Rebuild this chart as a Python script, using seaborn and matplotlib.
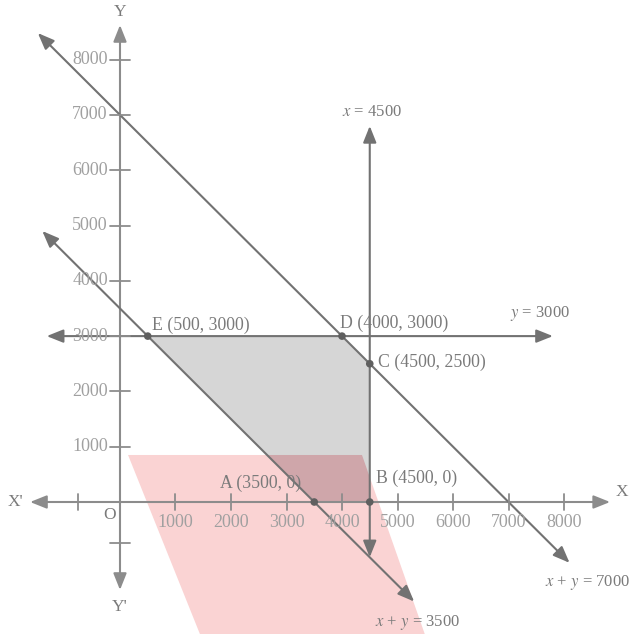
import numpy as np
import pandas as pd
import matplotlib
matplotlib.use("Agg")
import matplotlib.pyplot as plt
from matplotlib.patches import Polygon
import seaborn as sns

# corner points of the feasible region
corner_labels = ["A (3500, 0)", "B (4500, 0)", "C (4500, 2500)", "D (4000, 3000)", "E (500, 3000)"]
corner_x = [3500, 4500, 4500, 4000, 500]
corner_y = [0, 0, 2500, 3000, 3000]

# feasible region (gray) vertices: E, D, C, B, A
region_x = [500, 4000, 4500, 4500, 3500]
region_y = [3000, 3000, 2500, 0, 0]

# pink band vertices
pink_x = [145, 4360, 5600, 1565]
pink_y = [850, 850, -2700, -2700]

# constraint lines: end points
line7000_x = [-1480, 8100]
line7000_y = [8480, -1100]
line3500_x = [-1400, 5300]
line3500_y = [4900, -1800]
line3000_x = [-1320, 7800]
line3000_y = [3000, 3000]
line4500_x = [4500, 4500]
line4500_y = [-1000, 6800]

# axes end points
xaxis_x = [-1620, 8830]
yaxis_y = [-1590, 8625]

tick_values = [1000, 2000, 3000, 4000, 5000, 6000, 7000, 8000]
neg_tick = -750

sns.set_style("white")
plt.rcParams["font.family"] = ["Liberation Serif", "DejaVu Serif"]
plt.rcParams["mathtext.fontset"] = "stix"

fig = plt.figure(figsize=(6.36, 6.34), dpi=100)
ax = fig.add_axes([0, 0, 1, 1])
ax.set_xlim(-2162, 9297)
ax.set_ylim(-2387, 9078)
ax.axis("off")

axis_col = "#8c8c8c"
line_col = "#727272"
text_col = "#7a7a7a"
tick_col = "#a0a0a0"

# shaded areas
pink = Polygon(np.column_stack([pink_x, pink_y]), closed=True,
               facecolor="#fad3d3", edgecolor="none", zorder=1)
ax.add_patch(pink)
gray = Polygon(np.column_stack([region_x, region_y]), closed=True,
               facecolor="#d6d6d6", edgecolor="none", zorder=2)
ax.add_patch(gray)
overlap = Polygon(np.column_stack([region_x, region_y]), closed=True,
                  facecolor="#cfa6aa", edgecolor="none", zorder=3)
ax.add_patch(overlap)
overlap.set_clip_path(pink)


def arrow_line(xs, ys, color, lw=1.5):
    ax.annotate("", xy=(xs[1], ys[1]), xytext=(xs[0], ys[0]),
                arrowprops=dict(arrowstyle="<|-|>,head_length=1.0,head_width=0.4",
                                color=color, lw=lw, shrinkA=0, shrinkB=0),
                zorder=4)


# axes
arrow_line(xaxis_x, [0, 0], axis_col)
arrow_line([0, 0], yaxis_y, axis_col)

# constraint lines
arrow_line(line7000_x, line7000_y, line_col)
arrow_line(line3500_x, line3500_y, line_col)
arrow_line(line3000_x, line3000_y, line_col)
arrow_line(line4500_x, line4500_y, line_col)

# ticks
for v in tick_values + [neg_tick]:
    ax.plot([v, v], [-140, 140], color=axis_col, lw=1.3, zorder=4)
    ax.plot([-180, 180], [v, v], color=axis_col, lw=1.3, zorder=4)
for v in tick_values:
    ax.text(v, -370, str(v), ha="center", va="center", fontsize=13, color=tick_col, zorder=5)
    ax.text(-220, v, str(v), ha="right", va="center", fontsize=13, color=tick_col, zorder=5)

# corner points
pts = pd.DataFrame({"x": corner_x, "y": corner_y, "label": corner_labels})
sns.scatterplot(data=pts, x="x", y="y", ax=ax, color="#5f5f5f", s=30,
                edgecolor="none", zorder=6, legend=False)

label_pos = {
    "A (3500, 0)": (1800, 344),
    "B (4500, 0)": (4620, 430),
    "C (4500, 2500)": (4640, 2530),
    "D (4000, 3000)": (3960, 3230),
    "E (500, 3000)": (580, 3190),
}
for lab in corner_labels:
    lx, ly = label_pos[lab]
    ax.text(lx, ly, lab, ha="left", va="center", fontsize=12.8, color=text_col, zorder=5)

# line labels
ax.text(4540, 7050, "$x$ = 4500", ha="center", va="center", fontsize=12, color=text_col)
ax.text(7560, 3400, "$y$ = 3000", ha="center", va="center", fontsize=12, color=text_col)
ax.text(8430, -1450, "$x$ + $y$ = 7000", ha="center", va="center", fontsize=12, color=text_col)
ax.text(5370, -2170, "$x$ + $y$ = 3500", ha="center", va="center", fontsize=12, color=text_col)

# axis names
ax.text(0, 8870, "Y", ha="center", va="center", fontsize=12.5, color=text_col)
ax.text(0, -1900, "Y'", ha="center", va="center", fontsize=12.5, color=text_col)
ax.text(-1890, 0, "X'", ha="center", va="center", fontsize=12.5, color=text_col)
ax.text(9050, 180, "X", ha="center", va="center", fontsize=12.5, color=text_col)
ax.text(-190, -230, "O", ha="center", va="center", fontsize=12.5, color=text_col)

fig.savefig("out.png", dpi=100, facecolor="white")
